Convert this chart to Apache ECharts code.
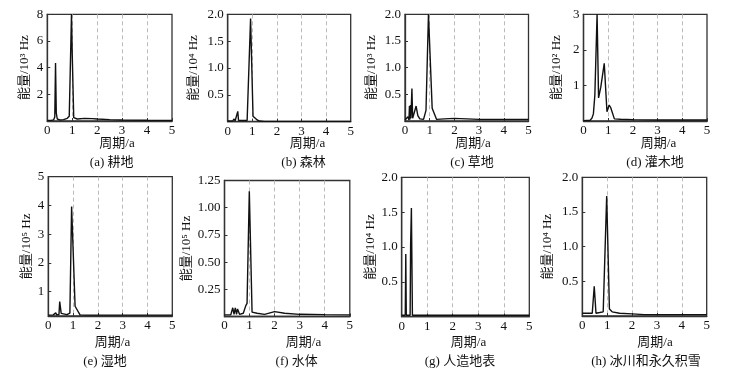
<!DOCTYPE html>
<html>
<head>
<meta charset="utf-8">
<script src="https://cdn.jsdelivr.net/npm/echarts@6/dist/echarts.min.js"></script>
<style>html,body{margin:0;padding:0;background:#fff;}#c{width:746px;height:372px;}</style>
</head>
<body>
<div id="c"></div>
<script>
// ---- data (period in years, energy in panel units) ----
var captions = ['(a) 耕地','(b) 森林','(c) 草地','(d) 灌木地','(e) 湿地','(f) 水体','(g) 人造地表','(h) 冰川和永久积雪'];
var yNames = ['能量/10³ Hz','能量/10⁴ Hz','能量/10³ Hz','能量/10² Hz','能量/10⁵ Hz','能量/10⁵ Hz','能量/10⁴ Hz','能量/10⁴ Hz'];
var xName = '周期/a';
var xTicks = [0,1,2,3,4,5];

var xA = [0,0.15,0.25,0.3,0.33,0.36,0.4,0.5,0.65,0.8,0.88,0.93,0.97,1.0,1.06,1.2,1.5,1.8,2.0,2.5,3.0,4.0,5.0];
var yA = [0.05,0.05,0.08,0.3,4.35,0.6,0.15,0.08,0.1,0.2,0.35,0.4,8.0,5.0,0.25,0.15,0.2,0.18,0.15,0.1,0.08,0.06,0.05];

var xB = [0,0.2,0.26,0.3,0.36,0.41,0.44,0.5,0.6,0.79,0.93,1.03,1.1,1.2,1.3,1.5,2,3,4,5];
var yB = [0.01,0.01,0.05,0.01,0.02,0.19,0.02,0.03,0.02,0.02,1.92,0.1,0.07,0.03,0.01,0.005,0.005,0.005,0.005,0.005];

var xC = [0,0.08,0.12,0.16,0.18,0.2,0.22,0.24,0.28,0.31,0.38,0.45,0.52,0.6,0.75,0.85,0.95,1.1,1.28,1.6,2.0,2.5,3,4,5];
var yC = [0.02,0.05,0.08,0.02,0.28,0.03,0.3,0.05,0.61,0.05,0.03,0.28,0.1,0.04,0.03,0.2,2.0,0.24,0.03,0.04,0.05,0.04,0.03,0.03,0.03];

var xD = [0,0.27,0.34,0.4,0.46,0.5,0.55,0.61,0.7,0.84,0.95,1.04,1.1,1.25,1.5,2,3,4,5];
var yD = [0.01,0.02,0.08,0.2,0.73,0.75,3.0,0.65,0.95,1.62,0.26,0.45,0.38,0.06,0.05,0.04,0.03,0.03,0.03];

var xE = [0,0.2,0.3,0.34,0.43,0.46,0.52,0.6,0.75,0.8,0.87,0.94,1.08,1.28,1.5,2,3,5];
var yE = [0.18,0.19,0.26,0.19,0.2,0.65,0.24,0.19,0.2,0.25,0.25,3.96,0.49,0.19,0.18,0.18,0.18,0.18];

var xF = [0,0.25,0.33,0.38,0.43,0.48,0.52,0.6,0.75,0.85,0.9,0.99,1.1,1.3,1.6,2.0,2.4,3.0,4.0,5.0];
var yF = [0.015,0.015,0.08,0.02,0.08,0.02,0.07,0.02,0.03,0.1,0.12,1.15,0.04,0.03,0.02,0.045,0.03,0.02,0.017,0.015];

var xG = [0,0.14,0.16,0.18,0.33,0.35,0.38,0.42,0.5,1,2,3,4,5];
var yG = [0.02,0.02,0.9,0.02,0.02,1.05,1.56,0.02,0.02,0.02,0.02,0.02,0.02,0.02];

var xH = [0,0.4,0.48,0.55,0.7,0.84,0.98,1.09,1.2,1.5,2,2.5,3,4,5];
var yH = [0.04,0.04,0.43,0.04,0.05,0.06,1.73,0.1,0.06,0.04,0.03,0.02,0.02,0.02,0.02];

var yMin = [0,0,0,0,0.15,0,0,0];
var yMax = [8,2,2,3,5,1.25,2,2];
var yStep = [2,0.5,0.5,1,1,0.25,0.5,0.5];
var yDec = [0,1,1,0,0,2,1,1];

// ---- layout ----
var grids = [
  [47.3,14.3,124.7,106.7],[227.7,14.3,123,107.3],[405,14.3,123.5,106.7],[583.5,14.3,123.5,106.7],
  [48.3,176.7,124,139.3],[224.5,180.5,125.3,136],[401.7,177.3,127.6,139.4],[582.3,177.3,124.4,138.7]
];
var nameGaps = [15.3,26.7,26.5,20,14.8,24.5,23,27.5];
var xNamePos = [[117,144],[307.5,144],[473,144],[658.5,144],[112.5,343],[303.5,343],[468.5,343],[655,343]];
var capPos = [[111.7,163],[303.5,163],[472,163],[655,163],[105,362],[296.7,362],[460,362],[646,362]];

var FONT = "'Liberation Serif','Noto Sans CJK SC',serif";
var xs = [xA,xB,xC,xD,xE,xF,xG,xH];
var ys = [yA,yB,yC,yD,yE,yF,yG,yH];

var option = {animation:false, backgroundColor:'#fff', grid:[], xAxis:[], yAxis:[], series:[], graphic:[]};
for (var i=0;i<8;i++){
  var g = grids[i];
  option.grid.push({left:g[0], top:g[1], width:g[2], height:g[3], show:true, borderColor:'#333', borderWidth:1.3, backgroundColor:'transparent'});
  option.xAxis.push({
    type:'value', gridIndex:i, min:xTicks[0], max:xTicks[xTicks.length-1], interval:1,
    axisLine:{show:true, onZero:false, lineStyle:{color:'#333', width:1.3}},
    axisTick:{show:true, inside:true, length:3, lineStyle:{color:'#333'}},
    axisLabel:{margin:3, color:'#111', fontSize:13, fontFamily:FONT},
    splitLine:{show:true, showMinLine:false, showMaxLine:false, lineStyle:{type:[4,3], color:'#bbb', width:1}}
  });
  (function(dec){
    var ya = {
      type:'value', gridIndex:i, min:yMin[i], max:yMax[i],
      name:yNames[i], nameLocation:'middle', nameGap:nameGaps[i], nameRotate:90,
      nameTextStyle:{color:'#111', fontSize:13, fontFamily:FONT, lineHeight:14},
      axisLine:{show:true, onZero:false, lineStyle:{color:'#333', width:1.3}},
      axisTick:{show:true, inside:true, length:3, lineStyle:{color:'#333'}},
      axisLabel:{margin:4, color:'#111', fontSize:13, fontFamily:FONT, showMinLabel:false,
        formatter:function(v){return v.toFixed(dec);}},
      splitLine:{show:false}
    };
    if (yMin[i] === 0) { ya.interval = yStep[i]; } else { ya.splitNumber = 5; }
    option.yAxis.push(ya);
  })(yDec[i]);
  var d = xs[i].map(function(x,k){return [x, ys[i][k]];});
  option.series.push({type:'line', xAxisIndex:i, yAxisIndex:i, data:d, showSymbol:false, symbol:'none',
    clip:true, lineStyle:{color:'#111', width:1.4}});
  option.graphic.push({type:'text', x:xNamePos[i][0], y:xNamePos[i][1],
    style:{text:xName, align:'center', verticalAlign:'middle', fill:'#111', font:"13px "+FONT}});
  option.graphic.push({type:'text', x:capPos[i][0], y:capPos[i][1],
    style:{text:captions[i], align:'center', verticalAlign:'middle', fill:'#111', font:"13px "+FONT}});
}
var chart = echarts.init(document.getElementById('c'), null, {renderer:'canvas'});
chart.setOption(option);
</script>
</body>
</html>
